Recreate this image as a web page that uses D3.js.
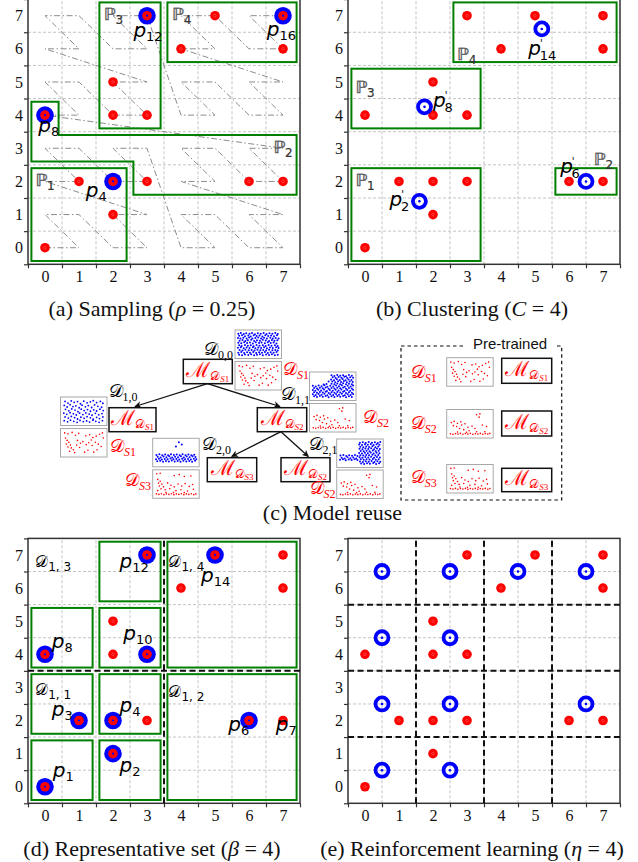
<!DOCTYPE html>
<html><head><meta charset="utf-8">
<script src="https://cdn.jsdelivr.net/npm/d3@7/dist/d3.min.js"></script>
<style>html,body{margin:0;padding:0;background:#fff}svg{display:block}</style>
</head><body>
<svg id="fig" width="638" height="862"></svg>
<script>
// ---------- grid / axis values ----------
const tickValues = [0, 1, 2, 3, 4, 5, 6, 7];
const tickLabels = ["0", "1", "2", "3", "4", "5", "6", "7"];
const cellEdges = [-0.5, 0.5, 1.5, 2.5, 3.5, 4.5, 5.5, 6.5, 7.5];
const gridValues = [0.5, 1.5, 2.5, 3.5, 4.5, 5.5, 6.5];

// ---------- the 16 points p1..p16 ----------
const pointX = [0, 2, 1, 2, 3, 6, 7, 0, 2, 3, 2, 3, 4, 5, 7, 7];
const pointY = [0, 1, 2, 2, 2, 2, 2, 4, 4, 4, 5, 7, 6, 7, 6, 7];

// (a) sampled points and Z-order traversal of the 8x8 cells
const sampledIds = [4, 8, 12, 16];
const zOrderX = [0,1,0,1,2,3,2,3,0,1,0,1,2,3,2,3,4,5,4,5,6,7,6,7,4,5,4,5,6,7,6,7,
                 0,1,0,1,2,3,2,3,0,1,0,1,2,3,2,3,4,5,4,5,6,7,6,7,4,5,4,5,6,7,6,7];
const zOrderY = [0,0,1,1,0,0,1,1,2,2,3,3,2,2,3,3,0,0,1,1,0,0,1,1,2,2,3,3,2,2,3,3,
                 4,4,5,5,4,4,5,5,6,6,7,7,6,6,7,7,4,4,5,5,4,4,5,5,6,6,7,7,6,6,7,7];
// partitions of (a): [x0, x1, y0, y1] or polygon vertices
const partA1 = [-0.4, 2.4, -0.4, 2.4];
const partA2 = [[-0.4,4.4],[0.4,4.4],[0.4,3.4],[7.4,3.4],[7.4,1.6],[2.6,1.6],[2.6,2.6],[-0.4,2.6]];
const partA3 = [1.6, 3.4, 3.6, 7.4];
const partA4 = [3.6, 7.4, 5.6, 7.4];

// (b) clusters and their centroids
const partB = [[-0.4, 3.4, -0.4, 2.4], [5.6, 7.4, 1.6, 2.4], [-0.4, 3.4, 3.6, 5.4], [2.6, 7.4, 5.6, 7.4]];
const centroidX = [1.6, 6.5, 1.75, 5.2];
const centroidY = [1.4, 2.0, 4.25, 6.6];

// (d) representative set
const repIds = [1, 2, 3, 4, 6, 8, 10, 12, 14];
const boxesD = [[-0.4,1.4,-0.4,1.4],[1.6,3.4,-0.4,1.4],[-0.4,1.4,1.6,3.4],[1.6,3.4,1.6,3.4],
                [3.6,7.4,-0.4,3.4],[-0.4,1.4,3.6,5.4],[1.6,3.4,3.6,5.4],[1.6,3.4,5.6,7.4],[3.6,7.4,3.6,7.4]];
const splitD = [3.5];

// (e) reinforcement learning grid
const splitE = [1.5, 3.5, 5.5];
const agentX = [0.5, 2.5, 4.5, 6.5, 0.5, 2.5, 0.5, 2.5, 6.5, 0.5, 2.5];
const agentY = [6.5, 6.5, 6.5, 6.5, 4.5, 4.5, 2.5, 2.5, 2.5, 0.5, 0.5];

// (c) thumbnail point sets, x/y in 0..100 (y from top)
const thumbD00 = [[2,5],[8,2],[15,6],[21,3],[29,5],[35,2],[42,7],[49,3],[56,5],[63,2],[70,6],[77,3],[84,5],[91,2],[97,6],
 [4,14],[11,12],[18,16],[26,13],[32,17],[39,12],[46,15],[53,13],[60,17],[67,12],[74,15],[81,13],[88,16],[95,12],
 [1,23],[7,26],[14,22],[22,25],[28,21],[36,26],[43,23],[50,21],[57,26],[64,22],[71,25],[79,22],[85,26],[92,23],[99,25],
 [5,35],[12,32],[19,36],[25,33],[33,31],[40,36],[47,33],[54,35],[61,31],[68,34],[76,36],[83,32],[89,35],[96,33],
 [2,44],[9,46],[16,42],[23,45],[30,43],[37,47],[44,42],[52,45],[58,43],[66,46],[73,42],[80,45],[87,43],[94,47],
 [4,54],[10,57],[18,53],[25,56],[32,54],[39,58],[46,53],[53,56],[61,54],[68,57],[75,53],[82,56],[90,54],[97,57],
 [1,65],[8,63],[15,67],[22,64],[29,66],[37,63],[43,67],[50,64],[57,66],[64,63],[71,67],[78,64],[85,66],[93,63],[99,66],
 [5,74],[12,77],[19,73],[27,76],[34,74],[41,77],[48,73],[55,76],[62,74],[69,77],[76,73],[84,76],[91,74],[97,77],
 [2,86],[9,83],[16,87],[23,84],[30,86],[38,83],[45,87],[52,84],[59,86],[66,83],[73,87],[80,84],[87,86],[94,83],
 [4,95],[11,97],[18,94],[26,96],[33,93],[40,97],[47,95],[54,93],[61,97],[69,94],[76,96],[83,93],[90,97],[97,95]];
const thumbD10 = [[5,8],[12,15],[20,6],[27,12],[35,9],[42,18],[50,7],[58,14],[66,10],[73,5],[81,13],[90,8],[96,16],
 [3,25],[10,32],[17,22],[24,30],[31,27],[39,35],[46,24],[54,31],[61,26],[69,34],[76,23],[84,29],[93,33],
 [6,42],[14,48],[21,40],[29,45],[36,52],[44,41],[51,47],[59,43],[66,50],[74,44],[81,49],[89,41],[97,47],
 [2,58],[9,63],[17,56],[25,61],[32,66],[40,58],[48,64],[55,57],[63,62],[70,67],[78,59],[86,65],[94,60],
 [5,74],[13,79],[20,72],[28,77],[35,83],[43,75],[51,80],[58,73],[66,78],[73,84],[81,76],[88,81],[96,74],
 [3,90],[11,95],[18,88],[26,93],[34,97],[41,89],[49,94],[57,91],[64,96],[72,88],[79,93],[87,97],[95,90]];
const thumbD11 = [[47,3],[54,6],[61,2],[68,5],[75,3],[82,7],[89,2],[96,5],
 [50,12],[57,15],[64,11],[71,14],[78,10],[85,15],[92,12],[99,14],
 [46,21],[53,24],[60,20],[67,23],[74,19],[81,24],[88,21],[95,23],
 [49,30],[56,33],[63,29],[70,32],[77,28],[84,33],[91,30],[98,32],
 [47,39],[54,42],[61,38],[68,41],[75,37],[82,42],[89,39],[96,41],[35,40],[28,43],[40,30],
 [2,48],[9,51],[16,47],[23,50],[30,46],[37,52],[44,48],[51,51],[58,47],[65,50],[72,46],[79,52],[86,48],[93,51],[99,47],
 [5,57],[12,60],[19,56],[26,59],[33,55],[40,61],[47,57],[54,60],[61,56],[68,59],[75,55],[82,61],[89,57],[96,60],
 [2,66],[8,69],[15,65],[22,68],[29,64],[36,70],[43,66],[50,69],[57,65],[64,68],[71,64],[78,70],[85,66],[92,69],[99,65],
 [5,75],[12,78],[19,74],[26,77],[33,73],[40,79],[47,75],[54,78],[61,74],[68,77],[75,73],[82,79],[89,75],[96,78],
 [2,84],[9,87],[16,83],[23,86],[30,82],[37,88],[44,84],[51,87],[58,83],[65,86],[72,82],[79,88],[86,84],[93,87],[99,83],
 [5,93],[12,96],[19,92],[26,95],[33,91],[40,97],[47,93],[54,96],[61,92],[68,95],[75,91],[82,97],[89,93],[96,96]];
const thumbD20 = [[57,6],[64,16],[50,24],
 [3,60],[10,57],[17,61],[24,58],[31,62],[38,57],[45,60],[52,58],[59,62],[66,57],[73,61],[80,58],[87,62],[94,59],
 [6,68],[13,71],[20,67],[27,70],[34,66],[41,71],[48,68],[55,70],[62,66],[69,71],[76,67],[83,70],[90,66],[97,69],
 [2,78],[9,76],[16,80],[23,77],[30,79],[37,75],[44,79],[51,77],[58,80],[65,76],[72,79],[79,77],[86,80],[93,76],[99,79],
 [5,87],[12,85],[19,89],[26,86],[33,88],[40,84],[47,88],[54,86],[61,89],[68,85],[75,88],[82,86],[89,89],[96,85]];
const thumbD21 = [[50,5],[57,3],[64,6],[71,2],[79,5],[86,3],[93,6],[99,2],
 [48,13],[55,15],[62,12],[69,14],[76,11],[83,15],[90,12],[97,14],
 [51,22],[58,24],[65,21],[72,23],[80,20],[87,24],[94,21],
 [49,31],[56,33],[63,30],[70,32],[77,29],[84,33],[91,30],[98,32],
 [52,40],[59,42],[66,39],[73,41],[81,38],[88,42],[95,39],
 [48,49],[55,51],[62,48],[69,50],[76,47],[83,51],[90,48],[97,50],
 [51,58],[58,60],[65,57],[72,59],[80,56],[87,60],[94,57],
 [49,67],[56,69],[63,66],[70,68],[77,65],[84,69],[91,66],[98,68],
 [52,76],[59,78],[66,75],[73,77],[81,74],[88,78],[95,75],
 [50,85],[57,87],[64,84],[71,86],[78,83],[85,87],[92,84],[99,86],
 [53,94],[60,96],[67,93],[74,95],[82,92],[89,96],[96,93],
 [3,60],[10,57],[17,62],[24,58],[31,61],[38,57],[44,62],[6,69],[13,72],[20,67],[27,71],[34,68],[41,72],
 [2,78],[9,76],[16,80],[23,77],[30,79],[37,75],[44,79]];
const thumbS1 = [[4,8],[12,12],[22,6],[30,18],[38,10],[55,20],[64,16],[72,28],[80,22],[88,14],[95,8],[97,30],
 [6,30],[10,40],[14,48],[8,55],[18,60],[12,68],[20,72],[25,80],[16,86],[28,92],[35,40],[42,52],[48,45],
 [56,58],[62,50],[70,62],[78,48],[85,56],[92,66],[60,82],[52,90],[40,70],[33,60],[68,38],[82,80],[74,90]];
const thumbS2 = [[66,12],[74,8],[72,22],[5,45],[12,40],[20,48],[28,42],[10,58],[18,62],[30,55],[38,50],[45,65],
 [55,60],[62,70],[80,55],[90,62],[48,80],[35,75],[25,70],[20,85],[42,86],[66,84],[86,84],
 [3,93],[9,95],[15,92],[21,94],[27,91],[33,95],[39,92],[45,94],[51,91],[57,95],[63,92],[69,94],[75,91],[81,95],[87,92],[93,94],[98,91]];
const thumbS3 = [[4,6],[12,4],[46,14],[58,10],[70,18],[86,16],
 [6,30],[12,38],[8,46],[16,50],[10,58],[20,62],[14,70],[24,74],[6,78],[30,45],[38,55],[46,62],[55,50],[64,58],
 [72,48],[82,60],[90,52],[35,70],[50,78],[62,74],[78,80],[92,72],
 [3,92],[9,94],[15,91],[21,95],[27,92],[33,94],[39,91],[45,95],[51,92],[57,94],[63,91],[69,95],[75,92],[81,94],
 [87,91],[93,95],[98,92],[26,85],[44,86],[70,86]];

// ---------- drawing ----------
const SERIF = "'Liberation Serif','Times New Roman',serif";
const SANS = "'DejaVu Sans',sans-serif";
const svg = d3.select("#fig");
const GREEN = "#008000", RED = "#ff0000", BLUE = "#0000ff";

function makePanel(xr, yr) {
  const g = svg.append("g");
  const x = d3.scaleLinear().domain([-0.5, 7.5]).range(xr);
  const y = d3.scaleLinear().domain([-0.5, 7.5]).range(yr);
  return { g, x, y };
}

function drawGrid(p) {
  const gg = p.g.append("g").attr("stroke", "#c4c4c4").attr("stroke-width", 1).attr("stroke-dasharray", "3,2");
  gg.selectAll(".gv").data(gridValues).join("line").attr("class", "gv")
    .attr("x1", d => p.x(d)).attr("x2", d => p.x(d)).attr("y1", p.y(-0.5)).attr("y2", p.y(7.5));
  gg.selectAll(".gh").data(gridValues).join("line").attr("class", "gh")
    .attr("y1", d => p.y(d)).attr("y2", d => p.y(d)).attr("x1", p.x(-0.5)).attr("x2", p.x(7.5));
}

function drawAxes(p) {
  const bottom = p.y(-0.5), left = p.x(-0.5);
  const styleTicks = s => { s.select(".domain").remove(); s.selectAll("line").attr("stroke", "#333").attr("stroke-width", 1.2); };
  const styleText = s => { s.select(".domain").remove(); s.selectAll("text").attr("font-family", SERIF).attr("font-size", 16).attr("fill", "#111"); };
  p.g.append("g").attr("transform", `translate(0,${bottom})`)
    .call(d3.axisBottom(p.x).tickValues(cellEdges).tickSize(4).tickSizeOuter(0).tickFormat("")).call(styleTicks);
  p.g.append("g").attr("transform", `translate(${left},0)`)
    .call(d3.axisLeft(p.y).tickValues(cellEdges).tickSize(4).tickSizeOuter(0).tickFormat("")).call(styleTicks);
  p.g.append("g").attr("transform", `translate(0,${bottom})`)
    .call(d3.axisBottom(p.x).tickValues(tickValues).tickSize(0).tickPadding(6).tickFormat((d, i) => tickLabels[i])).call(styleText);
  p.g.append("g").attr("transform", `translate(${left},0)`)
    .call(d3.axisLeft(p.y).tickValues(tickValues).tickSize(0).tickPadding(5).tickFormat((d, i) => tickLabels[i])).call(styleText);
  p.g.append("rect").attr("x", left).attr("y", p.y(7.5)).attr("width", p.x(7.5) - left).attr("height", bottom - p.y(7.5))
    .attr("fill", "none").attr("stroke", "#333").attr("stroke-width", 1.5);
}

function greenRect(p, r) {
  p.g.append("rect").attr("x", p.x(r[0])).attr("y", p.y(r[3]))
    .attr("width", p.x(r[1]) - p.x(r[0])).attr("height", p.y(r[2]) - p.y(r[3]))
    .attr("fill", "none").attr("stroke", GREEN).attr("stroke-width", 2);
}

function splitLines(p, vals) {
  const gg = p.g.append("g").attr("stroke", "#111").attr("stroke-width", 2).attr("stroke-dasharray", "6,3.5");
  gg.selectAll(".sv").data(vals).join("line").attr("class", "sv")
    .attr("x1", d => p.x(d)).attr("x2", d => p.x(d)).attr("y1", p.y(-0.5)).attr("y2", p.y(7.5));
  gg.selectAll(".sh").data(vals).join("line").attr("class", "sh")
    .attr("y1", d => p.y(d)).attr("y2", d => p.y(d)).attr("x1", p.x(-0.5)).attr("x2", p.x(7.5));
}

function redPoints(p) {
  const idx = d3.range(pointX.length);
  const gg = p.g.append("g");
  gg.selectAll(".rp").data(idx).join("circle").attr("class", "rp")
    .attr("cx", i => p.x(pointX[i])).attr("cy", i => p.y(pointY[i])).attr("r", 4.8).attr("fill", RED);
  gg.selectAll(".rc").data(idx).join("circle").attr("class", "rc")
    .attr("cx", i => p.x(pointX[i])).attr("cy", i => p.y(pointY[i])).attr("r", 1.3)
    .attr("fill", "none").attr("stroke", "#ff6a6a").attr("stroke-width", 0.5);
}

function chosenPoints(p, ids) {
  const gg = p.g.append("g");
  ids.forEach(id => {
    const cx = p.x(pointX[id - 1]), cy = p.y(pointY[id - 1]);
    gg.append("circle").attr("cx", cx).attr("cy", cy).attr("r", 8.8).attr("fill", BLUE);
    gg.append("circle").attr("cx", cx).attr("cy", cy).attr("r", 4.8).attr("fill", RED);
    gg.append("circle").attr("cx", cx).attr("cy", cy).attr("r", 1.1).attr("fill", BLUE);
  });
}

function rings(p, xs, ys) {
  const gg = p.g.append("g");
  xs.forEach((xv, i) => {
    gg.append("circle").attr("cx", p.x(xv)).attr("cy", p.y(ys[i])).attr("r", 6.5)
      .attr("fill", "none").attr("stroke", BLUE).attr("stroke-width", 3.8);
    gg.append("circle").attr("cx", p.x(xv)).attr("cy", p.y(ys[i])).attr("r", 1.3).attr("fill", BLUE);
  });
}

function pLabel(p, x, y, sub, prime) {
  const t = p.g.append("text").attr("x", p.x(x)).attr("y", p.y(y))
    .attr("font-family", SANS).attr("font-size", 20).attr("fill", "#000");
  t.append("tspan").attr("font-style", "italic").text("p");
  if (prime) {
    t.append("tspan").attr("font-size", 10).attr("dy", -8).attr("dx", -1).text("'");
    t.append("tspan").attr("font-size", 13).attr("dy", 13).attr("dx", -3).text(sub);
  } else {
    t.append("tspan").attr("font-size", 13).attr("dy", 4).text(sub);
  }
}

// double-struck set names; a thin outline keeps the hairline glyph a solid grey
function setLabel(p, x, y, sub) {
  const t = p.g.append("text").attr("x", p.x(x)).attr("y", p.y(y))
    .attr("font-family", SANS).attr("font-size", 17).attr("fill", "#5a5a5a")
    .attr("stroke", "#5a5a5a").attr("stroke-width", 0.35);
  t.append("tspan").text("ℙ");
  t.append("tspan").attr("font-size", 12).attr("dy", 4).attr("fill", "#333").attr("stroke", "#333").attr("stroke-width", 0.2).text(sub);
}

function partLabel(p, x, y, sub) {
  const t = p.g.append("text").attr("x", p.x(x)).attr("y", p.y(y))
    .attr("font-family", SANS).attr("font-size", 16).attr("fill", "#000");
  t.append("tspan").text("𝒟");
  t.append("tspan").attr("font-size", 12).attr("dy", 4).text(sub);
}

function caption(x, y, parts) {
  const t = svg.append("text").attr("x", x).attr("y", y).attr("text-anchor", "middle")
    .attr("font-family", SERIF).attr("font-size", 22).attr("fill", "#111");
  parts.forEach(pt => t.append("tspan").attr("font-style", pt[1] ? "italic" : "normal").text(pt[0]));
}

// ---------- (a) Sampling ----------
const pa = makePanel([28, 300], [264.3, -0.9]);
drawGrid(pa);
pa.g.append("path")
  .attr("d", d3.line().x(i => pa.x(zOrderX[i])).y(i => pa.y(zOrderY[i]))(d3.range(zOrderX.length)))
  .attr("fill", "none").attr("stroke", "#8c8c8c").attr("stroke-width", 1).attr("stroke-dasharray", "6,2.5,1.5,2.5");
drawAxes(pa);
greenRect(pa, partA1); greenRect(pa, partA3); greenRect(pa, partA4);
pa.g.append("path").attr("d", d3.line().x(d => pa.x(d[0])).y(d => pa.y(d[1]))(partA2) + "Z")
  .attr("fill", "none").attr("stroke", GREEN).attr("stroke-width", 2);
redPoints(pa);
chosenPoints(pa, sampledIds);
setLabel(pa, -0.29, 1.86, "1"); setLabel(pa, 6.71, 2.85, "2");
setLabel(pa, 1.72, 6.87, "3"); setLabel(pa, 3.73, 6.87, "4");
pLabel(pa, 2.6, 6.36, "12"); pLabel(pa, 6.52, 6.4, "16");
pLabel(pa, -0.2, 3.5, "8"); pLabel(pa, 1.2, 1.53, "4");
caption(152, 316, [["(a) Sampling ("], ["ρ", true], [" = 0.25)"]]);

// ---------- (b) Clustering ----------
const pb = makePanel([348, 620], [264.3, -0.9]);
drawGrid(pb);
drawAxes(pb);
partB.forEach(r => greenRect(pb, r));
redPoints(pb);
rings(pb, centroidX, centroidY);
setLabel(pb, -0.29, 1.86, "1"); setLabel(pb, 6.72, 2.5, "2");
setLabel(pb, -0.29, 4.66, "3"); setLabel(pb, 2.7, 5.67, "4");
pLabel(pb, 0.72, 1.26, "2", true); pLabel(pb, 5.74, 2.26, "6", true);
pLabel(pb, 2.0, 4.26, "8", true); pLabel(pb, 4.8, 5.8, "14", true);
caption(472, 316, [["(b) Clustering ("], ["C", true], [" = 4)"]]);

// ---------- (d) Representative set ----------
const pd = makePanel([28, 300], [803.3, 538.4]);
drawGrid(pd);
drawAxes(pd);
boxesD.forEach(r => greenRect(pd, r));
splitLines(pd, splitD);
redPoints(pd);
chosenPoints(pd, repIds);
partLabel(pd, -0.29, 6.65, "1, 3"); partLabel(pd, 3.63, 6.65, "1, 4");
partLabel(pd, -0.29, 2.77, "1, 1"); partLabel(pd, 3.63, 2.72, "1, 2");
pLabel(pd, 2.19, 6.6, "12"); pLabel(pd, 4.59, 6.17, "14");
pLabel(pd, 0.2, 4.19, "8"); pLabel(pd, 2.3, 4.44, "10");
pLabel(pd, 0.2, 2.13, "3"); pLabel(pd, 2.19, 2.27, "4");
pLabel(pd, 5.39, 1.67, "6"); pLabel(pd, 6.79, 1.67, "7");
pLabel(pd, 0.23, 0.29, "1"); pLabel(pd, 2.19, 0.46, "2");
caption(152, 856, [["(d) Representative set ("], ["β", true], [" = 4)"]]);

// ---------- (e) Reinforcement learning ----------
const pe = makePanel([348, 620], [803.3, 538.4]);
drawGrid(pe);
drawAxes(pe);
splitLines(pe, splitE);
redPoints(pe);
rings(pe, agentX, agentY);
caption(472, 856, [["(e) Reinforcement learning ("], ["η", true], [" = 4)"]]);

// ---------- (c) Model reuse ----------
const gc = svg.append("g");
const TW = 46.5, TH = 28.5;
function thumb(x0, y0, pts, color, r) {
  const g = gc.append("g");
  g.append("rect").attr("x", x0).attr("y", y0).attr("width", TW).attr("height", TH)
    .attr("fill", "#fff").attr("stroke", "#a8a8a8").attr("stroke-width", 1);
  const sx = d3.scaleLinear().domain([0, 100]).range([x0 + 2.5, x0 + TW - 2.5]);
  const sy = d3.scaleLinear().domain([0, 100]).range([y0 + 2.5, y0 + TH - 2.5]);
  g.selectAll("circle").data(pts).join("circle")
    .attr("cx", d => sx(d[0])).attr("cy", d => sy(d[1])).attr("r", r).attr("fill", color);
}
function modelBox(x0, y0, w, h, s) {
  gc.append("rect").attr("x", x0).attr("y", y0).attr("width", w).attr("height", h)
    .attr("fill", "#fff").attr("stroke", "#111").attr("stroke-width", 1.5);
  const t = gc.append("text").attr("x", x0 + w / 2).attr("y", y0 + h / 2 + 5).attr("text-anchor", "middle")
    .attr("font-family", SERIF).attr("font-size", 21).attr("fill", RED);
  t.append("tspan").text("ℳ");
  t.append("tspan").attr("font-size", 12).attr("dy", 3).text("𝒟");
  t.append("tspan").attr("font-size", 9).attr("dy", 2).attr("font-style", "italic").text("S");
  t.append("tspan").attr("font-size", 9).text(s);
}
function dText(x, y, sub, color, anchor, italicHead) {
  const t = gc.append("text").attr("x", x).attr("y", y).attr("text-anchor", anchor)
    .attr("font-family", SERIF).attr("font-size", 18).attr("fill", color);
  t.append("tspan").text("𝒟");
  if (italicHead) {
    t.append("tspan").attr("font-size", 12).attr("dy", 4).attr("font-style", "italic").text("S");
    t.append("tspan").attr("font-size", 12).text(sub);
  } else {
    t.append("tspan").attr("font-size", 12).attr("dy", 4).text(sub);
  }
}
function arrow(x1, y1, x2, y2) {
  gc.append("line").attr("x1", x1).attr("y1", y1).attr("x2", x2).attr("y2", y2)
    .attr("stroke", "#111").attr("stroke-width", 1.3).attr("marker-end", "url(#ah)");
}
svg.append("defs").append("marker").attr("id", "ah").attr("viewBox", "0 0 10 10").attr("refX", 9).attr("refY", 5)
  .attr("markerWidth", 7).attr("markerHeight", 7).attr("markerUnits", "userSpaceOnUse").attr("orient", "auto")
  .append("path").attr("d", "M0,0L10,5L0,10L3,5Z").attr("fill", "#111");

// tree
arrow(207.5, 383.7, 135, 406.5);
arrow(207.5, 383.7, 280, 406.5);
arrow(281, 431.7, 231.7, 456.5);
arrow(281, 431.7, 308.3, 456.5);
modelBox(183.3, 359.3, 49, 24.4, "1");
modelBox(109, 407.7, 47, 24, "1");
modelBox(257.3, 407.7, 49.4, 24, "2");
modelBox(207.3, 457.7, 49.4, 24, "3");
modelBox(281, 457.7, 49, 24, "2");
thumb(235, 330, thumbD00, BLUE, 1.0);   thumb(235, 361.5, thumbS1, RED, 0.8);
thumb(60.5, 397, thumbD10, BLUE, 0.9);  thumb(60.5, 428.5, thumbS1, RED, 0.8);
thumb(309.5, 372, thumbD11, BLUE, 1.0); thumb(309.5, 403.5, thumbS2, RED, 0.8);
thumb(152.7, 438.3, thumbD20, BLUE, 1.0); thumb(152.7, 469.8, thumbS3, RED, 0.8);
thumb(336.7, 439, thumbD21, BLUE, 1.0); thumb(336.7, 470, thumbS2, RED, 0.8);
dText(233, 354.5, "0,0", "#000", "end", false);
dText(283, 375, "1", RED, "start", true);
dText(108.5, 397, "1,0", "#000", "start", false);
dText(110, 452, "1", RED, "start", true);
dText(281, 400, "1,1", "#000", "start", false);
dText(363, 423, "2", RED, "start", true);
dText(202, 450, "2,0", "#000", "start", false);
dText(151, 486, "3", RED, "end", true);
dText(308.5, 450, "2,1", "#000", "start", false);
dText(335.5, 494, "2", RED, "end", true);

// pre-trained store
gc.append("rect").attr("x", 401).attr("y", 346).attr("width", 160.7).attr("height", 154)
  .attr("fill", "none").attr("stroke", "#111").attr("stroke-width", 1.2).attr("stroke-dasharray", "3.5,3");
gc.append("rect").attr("x", 465).attr("y", 334).attr("width", 90).attr("height", 20).attr("fill", "#fff");
gc.append("text").attr("x", 510).attr("y", 349).attr("text-anchor", "middle")
  .attr("font-family", "'Liberation Sans',Arial,sans-serif").attr("font-size", 15).attr("fill", "#111").text("Pre-trained");
thumb(446.7, 357.7, thumbS1, RED, 0.8);
thumb(446.7, 409.5, thumbS2, RED, 0.8);
thumb(446.7, 464.5, thumbS3, RED, 0.8);
modelBox(501.7, 358.3, 50, 25, "1");
modelBox(501.7, 411, 50, 25, "2");
modelBox(501.7, 468.3, 50, 23.4, "3");
dText(410.7, 378, "1", RED, "start", true);
dText(410.7, 429, "2", RED, "start", true);
dText(410.7, 483, "3", RED, "start", true);

caption(332.5, 520, [["(c) Model reuse"]]);
</script>
</body></html>
